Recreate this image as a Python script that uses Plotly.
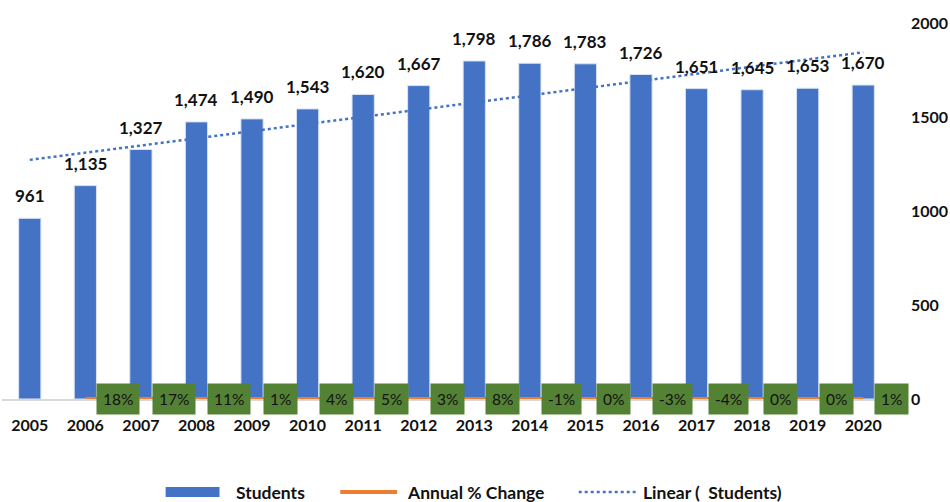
import numpy as np
import plotly.graph_objects as go

# --- data ---
years = ["2005", "2006", "2007", "2008", "2009", "2010", "2011", "2012",
         "2013", "2014", "2015", "2016", "2017", "2018", "2019", "2020"]
students = [961, 1135, 1327, 1474, 1490, 1543, 1620, 1667,
            1798, 1786, 1783, 1726, 1651, 1645, 1653, 1670]
pct_change = [None, 0.18, 0.17, 0.11, 0.01, 0.04, 0.05, 0.03,
              0.08, -0.01, 0.00, -0.03, -0.04, 0.00, 0.00, 0.01]

BLUE = "#4472C4"
ORANGE = "#ED7D31"
GREEN = "#548235"
INK = "#111111"
FONT = "Lato"

# plot area in pixels (used to place the hand-drawn legend)
W, H = 950, 502
ML, MR, MT, MB = 2, 57, 23, 103
PW, PH = W - ML - MR, H - MT - MB


def px(x):
    return (x - ML) / PW


def py(y):
    return (H - MB - y) / PH


# linear trend of students (same as Excel's "Linear" trendline)
idx = np.arange(len(students))
slope, intercept = np.polyfit(idx, students, 1)
trend = intercept + slope * idx

fig = go.Figure()

fig.add_trace(go.Bar(
    x=years, y=students, name="Students",
    marker=dict(color=BLUE, line=dict(color="#dae3f3", width=1)),
))

fig.add_trace(go.Scatter(
    x=years, y=pct_change, name="Annual % Change",
    mode="lines", line=dict(color=ORANGE, width=4), cliponaxis=False,
))

fig.add_trace(go.Scatter(
    x=years, y=trend, name="Linear (  Students)",
    mode="lines", line=dict(color=BLUE, width=2.5, dash="dot"),
))

# value labels above the bars
for i, v in enumerate(students):
    fig.add_annotation(
        x=i, y=v, xref="x", yref="y", text=f"{v:,}",
        xanchor="center", yanchor="bottom", yshift=10, showarrow=False,
        font=dict(family=FONT, size=17, color=INK, weight="bold"),
    )

# green percent labels to the right of each point
for i, v in enumerate(pct_change):
    if v is None:
        continue
    fig.add_annotation(
        x=i, y=0, xref="x", yref="y", text=f"{v:.0%}",
        xanchor="left", yanchor="middle", xshift=11, showarrow=False,
        bgcolor=GREEN, borderpad=6,
        font=dict(family=FONT, size=15.5, color=INK),
    )

# legend drawn by hand so the swatches match the original
fig.add_shape(type="rect", xref="paper", yref="paper",
              x0=px(166), x1=px(220), y0=py(497), y1=py(487),
              fillcolor=BLUE, line_width=0)
fig.add_shape(type="line", xref="paper", yref="paper",
              x0=px(341), x1=px(398), y0=py(492), y1=py(492),
              line=dict(color=ORANGE, width=4))
fig.add_shape(type="line", xref="paper", yref="paper",
              x0=px(580), x1=px(637), y0=py(492), y1=py(492),
              line=dict(color=BLUE, width=2.5, dash="dot"))
for x0, label in [(235, "Students"), (406, "Annual % Change"), (642, "Linear (  Students)")]:
    fig.add_annotation(
        x=px(x0), y=py(492), xref="paper", yref="paper", text=label,
        xanchor="left", yanchor="middle", showarrow=False,
        font=dict(family=FONT, size=17.5, color=INK, weight="bold"),
    )

fig.update_layout(
    width=W, height=H,
    margin=dict(l=ML, r=MR, t=MT, b=MB),
    paper_bgcolor="white", plot_bgcolor="white",
    showlegend=False, bargap=0.6,
    font=dict(family=FONT, size=16, color=INK),
)
fig.update_xaxes(
    type="category", range=[-0.5, len(years) - 0.5],
    showgrid=False, showline=True, linecolor="#d9d9d9", linewidth=1.5,
    ticks="", ticklabelstandoff=11,
    tickfont=dict(family=FONT, size=16, color=INK, weight="bold"),
)
fig.update_yaxes(
    side="right", range=[0, 2000], dtick=500, showgrid=False, zeroline=False,
    showline=False, ticks="", ticklabelstandoff=19,
    tickfont=dict(family=FONT, size=16, color=INK, weight="bold"),
)

# drop the page's default body margin so the figure sits at the window corner
fig.write_html("out.html", config={"displayModeBar": False},
               post_script="document.body.style.margin='0';")
